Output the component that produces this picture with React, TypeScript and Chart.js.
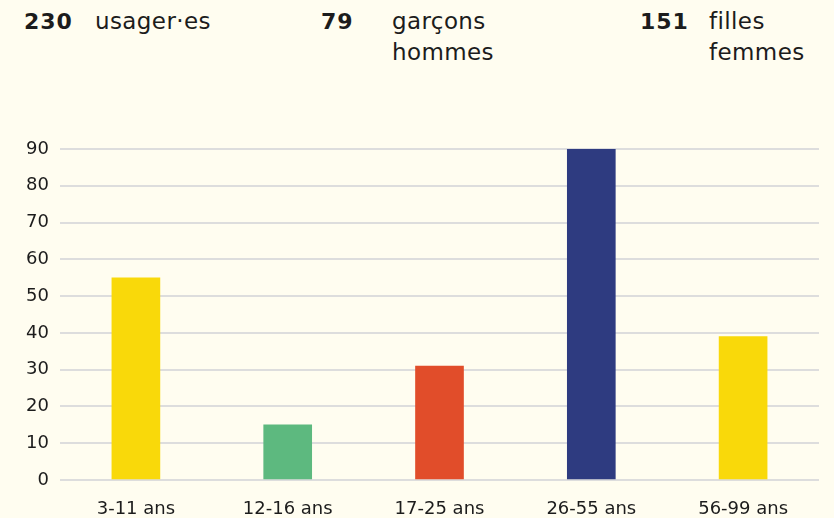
import React, { useEffect, useRef } from "react";
import { Chart, registerables } from "chart.js";

Chart.register(...registerables);

const categories = ["3-11 ans", "12-16 ans", "17-25 ans", "26-55 ans", "56-99 ans"];
const values = [55, 15, 31, 90, 39];
const barColors = ["#F9D90A", "#5DB97F", "#E14D2A", "#2E3B80", "#F9D90A"];
const yMin = 0;
const yMax = 90;
const yStep = 10;

const summaryNumbers = ["230", "79", "151"];
const summaryLabels = [["usager·es"], ["garçons", "hommes"], ["filles", "femmes"]];

const FONT = "'DejaVu Sans', sans-serif";
const TEXT = "#1c1c1c";
const BG = "#FFFDF0";

const numLeft = [24, 321, 640];
const labelLeft = [95, 392, 709];

export default function App() {
  const ref = useRef<HTMLCanvasElement | null>(null);

  useEffect(() => {
    if (!ref.current) return;
    const chart = new Chart(ref.current, {
      type: "bar",
      data: {
        labels: categories,
        datasets: [
          {
            data: values,
            backgroundColor: barColors,
            borderWidth: 0,
            barThickness: 48,
          },
        ],
      },
      options: {
        responsive: false,
        animation: false,
        layout: { padding: { top: 149, right: 15, left: 0, bottom: 0 } },
        plugins: { legend: { display: false }, tooltip: { enabled: false } },
        scales: {
          x: {
            grid: { display: false, drawTicks: false },
            border: { display: false },
            ticks: { color: TEXT, font: { size: 18, family: FONT }, padding: 19 },
            afterFit: (s: any) => {
              s.height = 38;
            },
          },
          y: {
            min: yMin,
            max: yMax,
            ticks: { stepSize: yStep, color: TEXT, font: { size: 18, family: FONT }, padding: 11 },
            grid: { color: "#dddddd", lineWidth: 2, drawTicks: false },
            border: { display: false },
            afterFit: (s: any) => {
              s.width = 60;
            },
          },
        },
      },
    });
    return () => chart.destroy();
  }, []);

  return (
    <div style={{ position: "relative", width: 834, height: 518, background: BG, overflow: "hidden" }}>
      <style>{"body{margin:0}"}</style>
      {summaryNumbers.map((n, i) => (
        <div
          key={"n" + i}
          style={{
            position: "absolute",
            left: numLeft[i],
            top: 6,
            fontFamily: FONT,
            fontWeight: 700,
            fontSize: 22,
            letterSpacing: 1,
            lineHeight: "31px",
            color: TEXT,
          }}
        >
          {n}
        </div>
      ))}
      {summaryLabels.map((lines, i) => (
        <div
          key={"l" + i}
          style={{
            position: "absolute",
            left: labelLeft[i],
            top: 6,
            fontFamily: FONT,
            fontSize: 23,
            letterSpacing: 0.4,
            lineHeight: "31px",
            color: TEXT,
          }}
        >
          {lines.map((t, j) => (
            <div key={j}>{t}</div>
          ))}
        </div>
      ))}
      <canvas ref={ref} width={834} height={518} style={{ position: "absolute", left: 0, top: 0 }} />
    </div>
  );
}
